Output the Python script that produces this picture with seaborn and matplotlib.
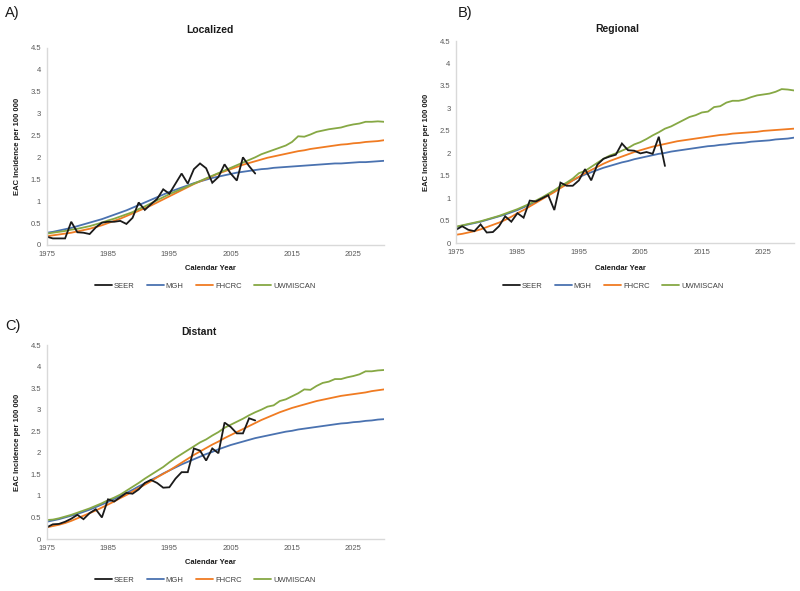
import numpy as np
import pandas as pd
import seaborn as sns
import matplotlib.pyplot as plt
from matplotlib.lines import Line2D

years = list(range(1975, 2031))
seer_years = list(range(1975, 2010))
series_names = ["SEER", "MGH", "FHCRC", "UWMISCAN"]

# ---------- Localized ----------
loc_seer = [0.19, 0.15, 0.15, 0.15, 0.53, 0.29, 0.28, 0.25, 0.40, 0.51,
            0.53, 0.53, 0.55, 0.48, 0.62, 0.97, 0.80, 0.93, 1.05, 1.27,
            1.17, 1.40, 1.63, 1.40, 1.73, 1.86, 1.75, 1.42, 1.55, 1.84,
            1.63, 1.47, 2.00, 1.80, 1.63]
loc_mgh = [0.28, 0.30, 0.33, 0.36, 0.39, 0.43, 0.47, 0.51, 0.55, 0.59,
           0.64, 0.69, 0.74, 0.79, 0.85, 0.91, 0.97, 1.03, 1.09, 1.15,
           1.21, 1.26, 1.31, 1.36, 1.41, 1.45, 1.49, 1.53, 1.56, 1.59,
           1.62, 1.65, 1.67, 1.69, 1.71, 1.73, 1.74, 1.76, 1.77, 1.78,
           1.79, 1.80, 1.81, 1.82, 1.83, 1.84, 1.85, 1.86, 1.86, 1.87,
           1.88, 1.89, 1.89, 1.90, 1.91, 1.92]
loc_fhcrc = [0.20, 0.22, 0.24, 0.26, 0.28, 0.31, 0.34, 0.37, 0.41, 0.45,
             0.50, 0.55, 0.60, 0.66, 0.72, 0.78, 0.84, 0.90, 0.97, 1.04,
             1.11, 1.18, 1.25, 1.32, 1.39, 1.45, 1.51, 1.57, 1.63, 1.68,
             1.73, 1.78, 1.83, 1.87, 1.91, 1.95, 1.99, 2.02, 2.05, 2.08,
             2.11, 2.14, 2.16, 2.19, 2.21, 2.23, 2.25, 2.27, 2.29, 2.30,
             2.32, 2.33, 2.35, 2.36, 2.37, 2.39]
loc_uwm = [0.26, 0.28, 0.30, 0.32, 0.35, 0.37, 0.40, 0.43, 0.47, 0.51,
           0.56, 0.60, 0.65, 0.70, 0.75, 0.82, 0.88, 0.95, 1.02, 1.09,
           1.16, 1.22, 1.28, 1.34, 1.40, 1.46, 1.52, 1.58, 1.64, 1.70,
           1.76, 1.82, 1.88, 1.94, 2.00, 2.07, 2.12, 2.17, 2.22, 2.27,
           2.35, 2.48, 2.47, 2.52, 2.58, 2.61, 2.64, 2.66, 2.68, 2.72,
           2.75, 2.77, 2.81, 2.81, 2.82, 2.81]

# ---------- Regional ----------
reg_seer = [0.30, 0.38, 0.30, 0.27, 0.42, 0.24, 0.25, 0.38, 0.60, 0.48,
            0.67, 0.57, 0.95, 0.93, 1.00, 1.07, 0.74, 1.35, 1.28, 1.28,
            1.40, 1.65, 1.40, 1.75, 1.88, 1.93, 1.97, 2.22, 2.07, 2.06,
            2.00, 2.03, 1.99, 2.37, 1.72]
reg_mgh = [0.36, 0.39, 0.42, 0.45, 0.48, 0.52, 0.56, 0.60, 0.64, 0.69,
           0.74, 0.80, 0.86, 0.93, 1.00, 1.08, 1.16, 1.24, 1.32, 1.40,
           1.47, 1.53, 1.58, 1.63, 1.68, 1.72, 1.76, 1.80, 1.83, 1.87,
           1.90, 1.93, 1.96, 1.99, 2.01, 2.04, 2.06, 2.08, 2.10, 2.12,
           2.14, 2.16, 2.17, 2.19, 2.20, 2.22, 2.23, 2.24, 2.26, 2.27,
           2.28, 2.29, 2.31, 2.32, 2.33, 2.35]
reg_fhcrc = [0.19, 0.21, 0.24, 0.27, 0.31, 0.36, 0.41, 0.46, 0.52, 0.59,
             0.67, 0.74, 0.82, 0.90, 0.98, 1.06, 1.14, 1.23, 1.31, 1.40,
             1.48, 1.56, 1.63, 1.70, 1.77, 1.83, 1.88, 1.93, 1.98, 2.03,
             2.07, 2.11, 2.15, 2.18, 2.21, 2.24, 2.27, 2.29, 2.31, 2.33,
             2.35, 2.37, 2.39, 2.41, 2.42, 2.44, 2.45, 2.46, 2.47, 2.48,
             2.50, 2.51, 2.52, 2.53, 2.54, 2.55]
reg_uwm = [0.37, 0.40, 0.43, 0.46, 0.49, 0.53, 0.57, 0.61, 0.66, 0.71,
           0.76, 0.82, 0.88, 0.95, 1.02, 1.10, 1.18, 1.27, 1.35, 1.44,
           1.56, 1.61, 1.70, 1.79, 1.88, 1.95, 2.00, 2.06, 2.12, 2.20,
           2.25, 2.32, 2.40, 2.47, 2.55, 2.60, 2.67, 2.74, 2.81, 2.85,
           2.91, 2.93, 3.03, 3.05, 3.13, 3.17, 3.17, 3.20, 3.25, 3.29,
           3.31, 3.33, 3.37, 3.43, 3.42, 3.40]

# ---------- Distant ----------
dis_seer = [0.27, 0.34, 0.35, 0.40, 0.47, 0.56, 0.46, 0.60, 0.69, 0.50,
            0.92, 0.87, 0.97, 1.07, 1.05, 1.15, 1.30, 1.37, 1.30, 1.19,
            1.20, 1.40, 1.55, 1.55, 2.10, 2.05, 1.82, 2.10, 1.99, 2.70,
            2.60, 2.45, 2.45, 2.80, 2.75]
dis_mgh = [0.40, 0.43, 0.46, 0.50, 0.54, 0.58, 0.63, 0.68, 0.74, 0.80,
           0.86, 0.93, 1.00, 1.07, 1.14, 1.22, 1.29, 1.37, 1.44, 1.52,
           1.59, 1.66, 1.73, 1.79, 1.85, 1.91, 1.97, 2.02, 2.08, 2.13,
           2.18, 2.22, 2.26, 2.30, 2.34, 2.37, 2.40, 2.43, 2.46, 2.49,
           2.51, 2.54, 2.56, 2.58, 2.60, 2.62, 2.64, 2.66, 2.68, 2.69,
           2.71, 2.72, 2.74, 2.75, 2.77, 2.78]
dis_fhcrc = [0.27, 0.30, 0.33, 0.37, 0.42, 0.48, 0.54, 0.60, 0.66, 0.73,
             0.80, 0.87, 0.95, 1.02, 1.10, 1.18, 1.26, 1.34, 1.43, 1.51,
             1.59, 1.68, 1.77, 1.86, 1.95, 2.03, 2.11, 2.19, 2.26, 2.34,
             2.41, 2.48, 2.55, 2.62, 2.69, 2.76, 2.82, 2.88, 2.94, 2.99,
             3.04, 3.08, 3.12, 3.16, 3.20, 3.23, 3.26, 3.29, 3.32, 3.34,
             3.36, 3.38, 3.40, 3.43, 3.45, 3.47]
dis_uwm = [0.44, 0.45, 0.48, 0.52, 0.56, 0.61, 0.66, 0.71, 0.77, 0.83,
           0.90, 0.96, 1.03, 1.12, 1.21, 1.30, 1.40, 1.49, 1.58, 1.67,
           1.78, 1.88, 1.97, 2.06, 2.15, 2.24, 2.31, 2.40, 2.48, 2.58,
           2.65, 2.72, 2.79, 2.87, 2.94, 3.00, 3.07, 3.10, 3.20, 3.24,
           3.31, 3.38, 3.47, 3.46, 3.55, 3.62, 3.65, 3.71, 3.71, 3.75,
           3.78, 3.82, 3.89, 3.89, 3.91, 3.92]

x_ticks = [1975, 1985, 1995, 2005, 2015, 2025]
y_ticks = [0, 0.5, 1, 1.5, 2, 2.5, 3, 3.5, 4, 4.5]
y_tick_labels = ["0", "0.5", "1", "1.5", "2", "2.5", "3", "3.5", "4", "4.5"]

colors = {"SEER": "#1a1a1a", "MGH": "#4a72b0", "FHCRC": "#f07b22",
          "UWMISCAN": "#86a844"}


def build(seer, mgh, fhcrc, uwm):
    frames = [
        pd.DataFrame({"Year": years, "Value": mgh, "Series": "MGH"}),
        pd.DataFrame({"Year": years, "Value": fhcrc, "Series": "FHCRC"}),
        pd.DataFrame({"Year": years, "Value": uwm, "Series": "UWMISCAN"}),
        pd.DataFrame({"Year": seer_years, "Value": seer, "Series": "SEER"}),
    ]
    return pd.concat(frames, ignore_index=True)


sns.set_theme(style="white")
plt.rcParams["font.family"] = ["Liberation Sans", "DejaVu Sans"]

fig = plt.figure(figsize=(8.0, 5.91), dpi=100)
W, H = 800.0, 591.0

panels = [
    (build(loc_seer, loc_mgh, loc_fhcrc, loc_uwm), "Localized", "A)",
     (46.7, 47.7, 384.0, 245.0), 210, 30, (5, 13), 268, (205, 286)),
    (build(reg_seer, reg_mgh, reg_fhcrc, reg_uwm), "Regional", "B)",
     (456.0, 41.0, 794.0, 243.3), 617, 29, (458, 13), 268, (613, 286)),
    (build(dis_seer, dis_mgh, dis_fhcrc, dis_uwm), "Distant", "C)",
     (46.7, 345.0, 384.0, 539.0), 199, 332, (5, 326), 562, (205, 580)),
]

for df, title, letter, (l, t, r, b), tx, ty, (lx, ly), xly, (lgx, lgy) in panels:
    ax = fig.add_axes([l / W, 1 - b / H, (r - l) / W, (b - t) / H])
    sns.lineplot(data=df, x="Year", y="Value", hue="Series",
                 hue_order=["MGH", "FHCRC", "UWMISCAN", "SEER"],
                 palette=colors, estimator=None, linewidth=1.3,
                 legend=False, ax=ax)
    for line in ax.get_lines():
        line.set_solid_joinstyle("miter")
    ax.set_xlim(1975, 2030)
    ax.set_ylim(0, 4.5)
    ax.set_xticks(x_ticks)
    ax.set_xticklabels([str(v) for v in x_ticks])
    ax.set_yticks(y_ticks)
    ax.set_yticklabels(y_tick_labels)
    ax.tick_params(axis="both", length=0, labelsize=5.5, labelcolor="#595959",
                   pad=4)
    ax.set_xlabel("")
    ax.set_ylabel("EAC Incidence per 100 000", fontsize=5.5,
                  fontweight="bold", color="#1a1a1a", labelpad=7)
    for s in ["top", "right"]:
        ax.spines[s].set_visible(False)
    for s in ["left", "bottom"]:
        ax.spines[s].set_color("#d9d9d9")
        ax.spines[s].set_linewidth(1.0)
    ax.grid(False)

    fig.text(tx / W, 1 - ty / H, title, ha="center", va="center",
             fontsize=7.5, fontweight="bold", color="#1a1a1a")
    fig.text(lx / W, 1 - ly / H, letter, ha="left", va="center",
             fontsize=10.5, color="#1a1a1a")
    fig.text(((l + r) / 2 - 5) / W, 1 - xly / H, "Calendar Year",
             ha="center", va="center", fontsize=5.5, fontweight="bold",
             color="#1a1a1a")

    handles = [Line2D([0], [0], color=colors[n], lw=1.3) for n in series_names]
    fig.legend(handles, series_names, loc="center",
               bbox_to_anchor=(lgx / W, 1 - lgy / H), ncol=4, frameon=False,
               fontsize=5.5, handlelength=2.3, handletextpad=0.2,
               columnspacing=1.6, labelcolor="#404040")

fig.savefig("out.png", dpi=100)
